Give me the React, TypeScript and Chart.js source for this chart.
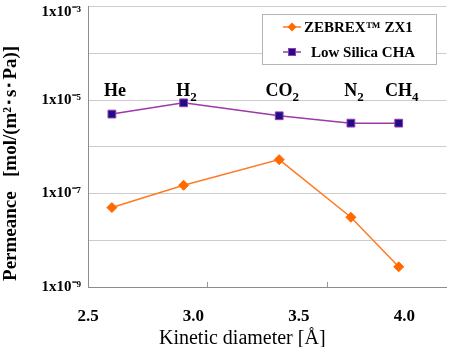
import React, { useEffect, useRef } from 'react';
import { Chart, registerables } from 'chart.js';

Chart.register(...registerables);

// ---- data ----
const gasMain = ['He', 'H', 'CO', 'N', 'CH'];
const gasSub = ['', '2', '2', '2', '4'];
const kineticDiameters = [2.6, 2.9, 3.3, 3.6, 3.8];
const zebrexValues = [5.0e-8, 1.5e-7, 5.3e-7, 3.1e-8, 2.7e-9];
const lowSilicaValues = [5.0e-6, 8.7e-6, 4.6e-6, 3.2e-6, 3.2e-6];
const seriesNames = ['ZEBREX™ ZX1', 'Low Silica CHA'];
const yTickValues = [1e-9, 1e-8, 1e-7, 1e-6, 1e-5, 1e-4, 1e-3];
const yTickLabels = ['1x10⁻⁹', '', '1x10⁻⁷', '', '1x10⁻⁵', '', '1x10⁻³'];
const xTickValues = [2.5, 3.0, 3.5, 4.0];
const xTickLabels = ['2.5', '3.0', '3.5', '4.0'];
const xMarkValues = [3.0, 3.5];

const SERIF = '"Liberation Serif", "Times New Roman", serif';
const ORANGE = '#FF6A00';
const ORANGE_LINE = '#FF7A22';
const PURPLE = '#9B3AA8';
const NAVY = '#1E0E8A';

const gasLabelPlugin = {
  id: 'gasLabels',
  afterDatasetsDraw(chart: any) {
    const { ctx, chartArea } = chart;
    const xs = chart.scales.x;
    ctx.save();
    ctx.fillStyle = '#000';
    ctx.textBaseline = 'alphabetic';
    ctx.textAlign = 'left';
    const baseY = chartArea.top + 89;
    gasMain.forEach((m, i) => {
      const px = xs.getPixelForValue(kineticDiameters[i]);
      ctx.font = `bold 18px ${SERIF}`;
      const w1 = ctx.measureText(m).width;
      ctx.font = `bold 13px ${SERIF}`;
      const w2 = gasSub[i] ? ctx.measureText(gasSub[i]).width : 0;
      const left = px + 3 - (w1 + w2) / 2;
      ctx.font = `bold 18px ${SERIF}`;
      ctx.fillText(m, left, baseY);
      if (gasSub[i]) {
        ctx.font = `bold 13px ${SERIF}`;
        ctx.fillText(gasSub[i], left + w1, baseY + 5);
      }
    });
    ctx.restore();
  },
};

const boxLegendPlugin = {
  id: 'boxLegend',
  afterDatasetsDraw(chart: any) {
    const { ctx, chartArea } = chart;
    const w = 174;
    const h = 50;
    const left = Math.round(chartArea.right - 185);
    const top = Math.round(chartArea.top + 7);
    ctx.save();
    ctx.fillStyle = '#fff';
    ctx.fillRect(left, top, w, h);
    ctx.strokeStyle = '#b4b4b4';
    ctx.lineWidth = 1;
    ctx.strokeRect(left + 0.5, top + 0.5, w, h);
    chart.data.datasets.forEach((ds: any, i: number) => {
      const cy = top + 13 + i * 25;
      const lx = left + 21;
      ctx.strokeStyle = ds.borderColor;
      ctx.lineWidth = 1.5;
      ctx.beginPath();
      ctx.moveTo(lx, cy);
      ctx.lineTo(lx + 18, cy);
      ctx.stroke();
      const mx = lx + 9;
      if (i === 0) {
        ctx.fillStyle = ORANGE;
        ctx.beginPath();
        ctx.moveTo(mx, cy - 4.5);
        ctx.lineTo(mx + 4.5, cy);
        ctx.lineTo(mx, cy + 4.5);
        ctx.lineTo(mx - 4.5, cy);
        ctx.closePath();
        ctx.fill();
      } else {
        ctx.fillStyle = NAVY;
        ctx.fillRect(mx - 4, cy - 4, 8, 8);
        ctx.strokeStyle = PURPLE;
        ctx.lineWidth = 1;
        ctx.strokeRect(mx - 3.5, cy - 3.5, 7, 7);
      }
      ctx.fillStyle = '#000';
      ctx.font = `bold 15px ${SERIF}`;
      ctx.textBaseline = 'middle';
      ctx.textAlign = 'left';
      ctx.fillText(ds.label, i === 0 ? lx + 21 : lx + 28, cy + 1);
    });
    ctx.restore();
  },
};

export default function App() {
  const canvasRef = useRef<HTMLCanvasElement | null>(null);

  useEffect(() => {
    const canvas = canvasRef.current;
    if (!canvas) return;
    const chart = new Chart(canvas, {
      type: 'line',
      data: {
        datasets: [
          {
            label: seriesNames[0],
            data: kineticDiameters.map((x, i) => ({ x, y: zebrexValues[i] })),
            borderColor: ORANGE_LINE,
            backgroundColor: ORANGE,
            borderWidth: 1.5,
            pointStyle: 'rectRot',
            pointRadius: 5,
            pointBackgroundColor: ORANGE,
            pointBorderColor: ORANGE,
            pointBorderWidth: 1,
            tension: 0,
          },
          {
            label: seriesNames[1],
            data: kineticDiameters.map((x, i) => ({ x, y: lowSilicaValues[i] })),
            borderColor: PURPLE,
            backgroundColor: NAVY,
            borderWidth: 1.5,
            pointStyle: 'rect',
            pointRadius: 5.5,
            pointBackgroundColor: NAVY,
            pointBorderColor: PURPLE,
            pointBorderWidth: 1,
            tension: 0,
          },
        ],
      },
      options: {
        responsive: false,
        animation: false,
        layout: { padding: { left: 0, right: 2, top: 5, bottom: 0 } },
        plugins: { legend: { display: false }, tooltip: { enabled: false } },
        scales: {
          x: {
            type: 'linear',
            min: 2.5,
            max: 4.0,
            position: 'bottom',
            weight: 0,
            afterBuildTicks: (s: any) => {
              s.ticks = xMarkValues.map((v) => ({ value: v }));
            },
            ticks: { display: false },
            grid: { drawOnChartArea: false, drawTicks: true, tickLength: -5, color: '#9a9a9a' },
            border: { color: '#8c8c8c', width: 1 },
            afterFit: (s: any) => {
              s.height = 0;
              s.paddingLeft = 0;
              s.paddingRight = 0;
            },
          },
          xl: {
            type: 'linear',
            min: 2.5,
            max: 4.2,
            position: 'bottom',
            weight: 1,
            afterBuildTicks: (s: any) => {
              s.ticks = xTickValues.map((v) => ({ value: v }));
            },
            ticks: {
              callback: (_v: any, i: number) => xTickLabels[i],
              font: { family: SERIF, size: 17, weight: 'bold' },
              color: '#000',
              padding: 11,
              maxRotation: 0,
              autoSkip: false,
            },
            grid: { display: false },
            border: { display: false },
            title: {
              display: true,
              text: 'Kinetic diameter [Å]' + '\u00a0'.repeat(10),
              font: { family: SERIF, size: 20, weight: 'normal' },
              color: '#000',
              padding: { top: 0, bottom: -4 },
            },
            afterFit: (s: any) => {
              s.height = 60;
              s.paddingLeft = 0;
              s.paddingRight = 0;
            },
          },
          y: {
            type: 'logarithmic',
            min: 1e-9,
            max: 1e-3,
            afterBuildTicks: (s: any) => {
              s.ticks = yTickValues.map((v) => ({ value: v }));
            },
            ticks: {
              callback: (_v: any, i: number) =>
                i === yTickValues.length - 1 ? ['', yTickLabels[i]] : yTickLabels[i],
              font: { family: SERIF, size: 15, weight: 'bold', lineHeight: 0.8 },
              color: '#000',
              padding: 7,
              autoSkip: false,
            },
            grid: { color: '#cccccc', drawTicks: false },
            border: { color: '#8c8c8c', width: 1 },
            title: {
              display: true,
              text: 'Permeance   [mol/(m²･s･Pa)]' + '\u00a0'.repeat(7),
              font: { family: SERIF, size: 19, weight: 'bold' },
              color: '#000',
              padding: { top: 0, bottom: 0 },
            },
            afterFit: (s: any) => {
              s.width = 88;
              s.paddingTop = 0;
              s.paddingBottom = 0;
            },
          },
        },
      } as any,
      plugins: [gasLabelPlugin, boxLegendPlugin],
    });
    return () => chart.destroy();
  }, []);

  return (
    <div style={{ position: 'fixed', left: 0, top: 0, width: 453, height: 347, background: '#fff' }}>
      <canvas ref={canvasRef} width={453} height={347} style={{ display: 'block' }} />
    </div>
  );
}
